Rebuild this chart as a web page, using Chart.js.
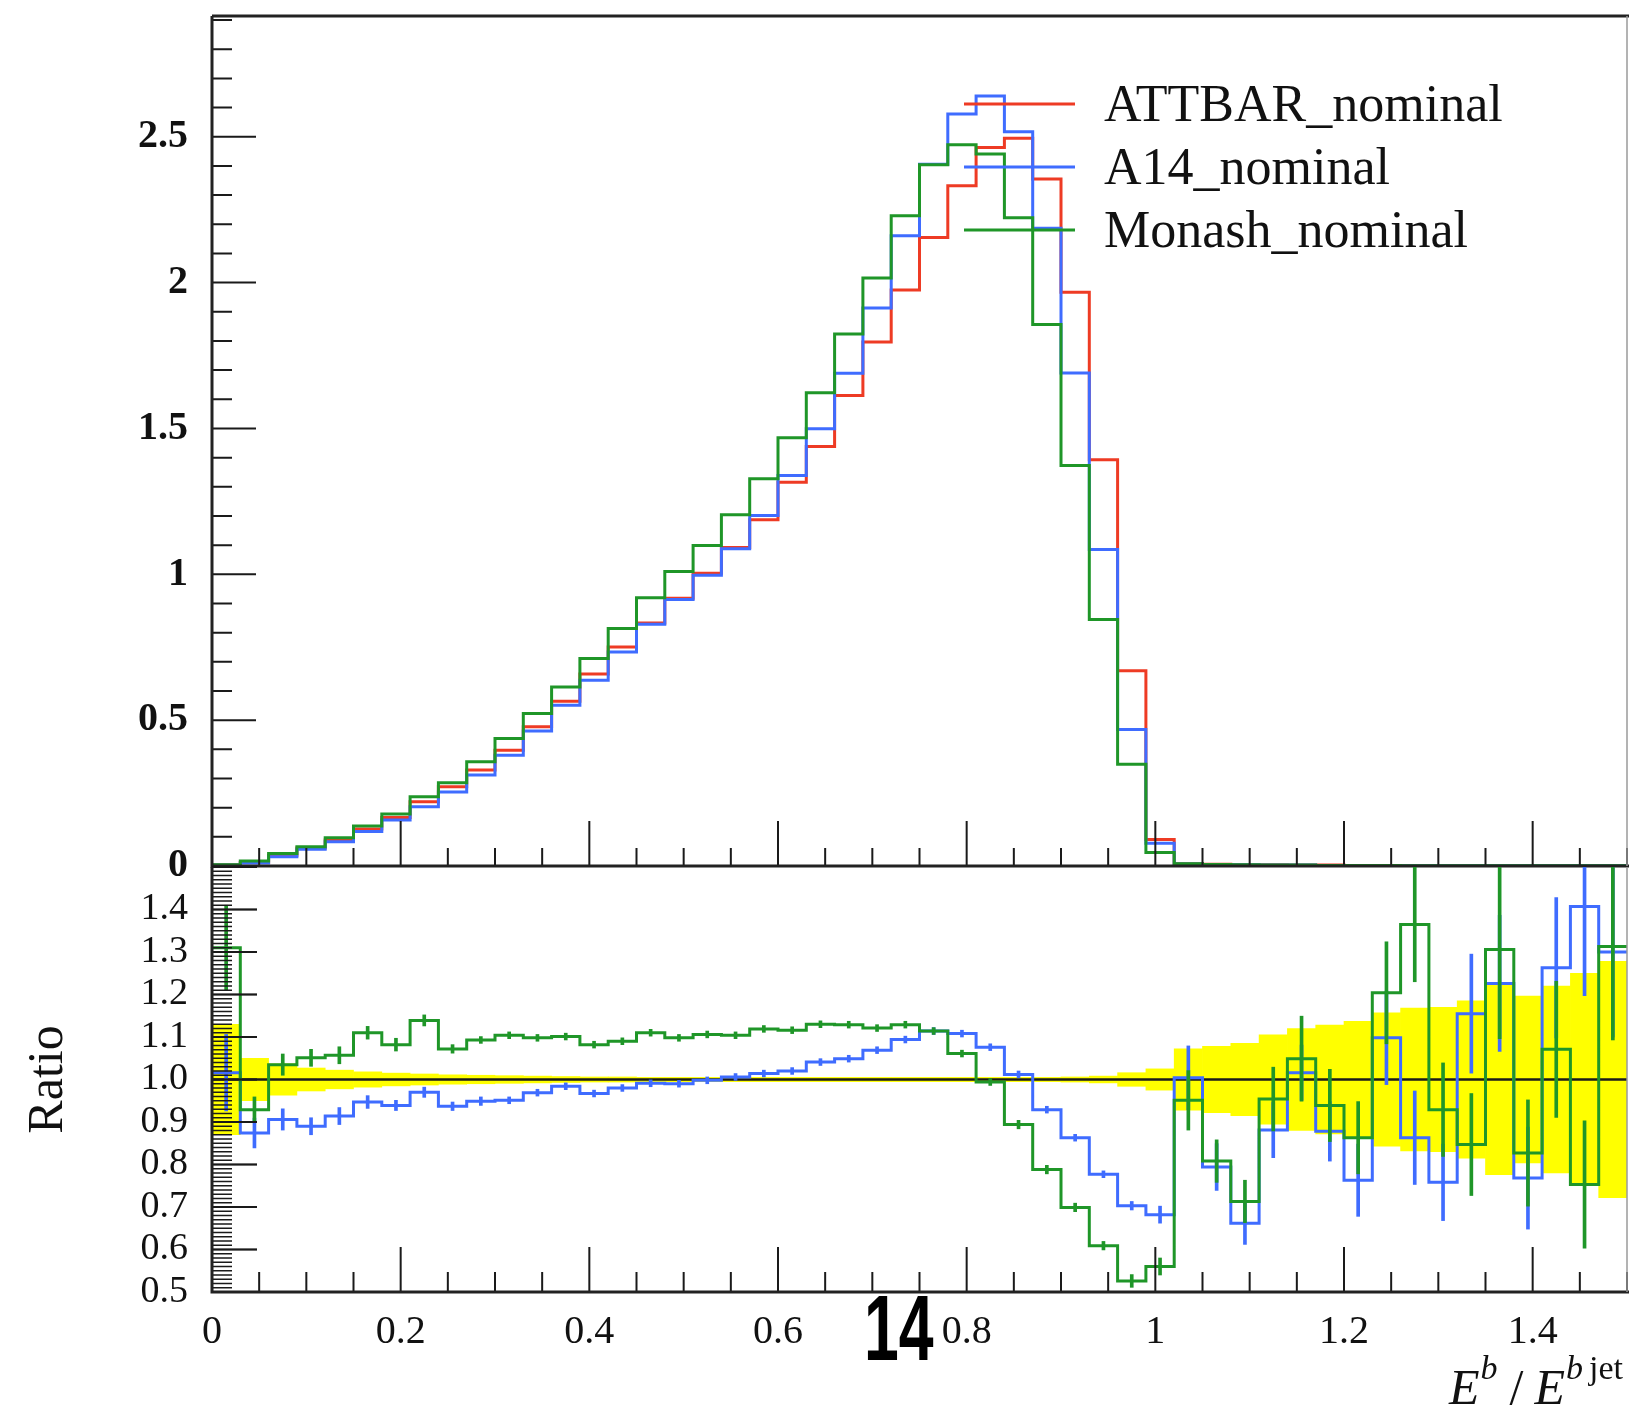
<!DOCTYPE html>
<html>
<head>
<meta charset="utf-8">
<title>E^b / E^bjet</title>
<script src="https://cdn.jsdelivr.net/npm/chart.js@4.4.1/dist/chart.umd.min.js"></script>
<style>
  html, body { margin: 0; padding: 0; background: #fff; }
  #lienzo { position: relative; width: 1629px; height: 1421px; overflow: hidden; background: #fff; }
  #lienzo canvas { position: absolute; left: 0; top: 0; }
  #pagina {
    position: absolute; left: 864px; top: 1282px;
    font: bold 92px "Liberation Sans"; line-height: 92px; color: #000;
    transform: scaleX(0.68); transform-origin: left top;
  }
</style>
</head>
<body>
<div id="lienzo">
  <canvas id="arriba" width="1629" height="1421"></canvas>
  <canvas id="abajo" width="1629" height="1421"></canvas>
  <div id="pagina">14</div>
</div>
<script>
// bordes de los 50 bins
const bordes = [0, 0.03, 0.06, 0.09, 0.12, 0.15, 0.18, 0.21, 0.24, 0.27, 0.3, 0.33, 0.36, 0.39, 0.42, 0.45,
  0.48, 0.51, 0.54, 0.57, 0.6, 0.63, 0.66, 0.69, 0.72, 0.75, 0.78, 0.81, 0.84, 0.87, 0.9, 0.93, 0.96, 0.99,
  1.02, 1.05, 1.08, 1.11, 1.14, 1.17, 1.2, 1.23, 1.26, 1.29, 1.32, 1.35, 1.38, 1.41, 1.44, 1.47, 1.5];

// distribuciones normalizadas
const attbar = [0.004, 0.012, 0.037, 0.062, 0.089, 0.127, 0.166, 0.220, 0.272, 0.329, 0.397, 0.477, 0.565,
  0.658, 0.751, 0.833, 0.918, 1.004, 1.092, 1.187, 1.316, 1.438, 1.613, 1.796, 1.975, 2.155, 2.332, 2.463,
  2.495, 2.355, 1.967, 1.393, 0.669, 0.091, 0.008, 0.006, 0.005, 0.004, 0.003, 0.003, 0.002, 0.002, 0.002,
  0.001, 0.001, 0.001, 0.001, 0.001, 0.001, 0.001];
const a14 = [0.003, 0.010, 0.032, 0.057, 0.083, 0.118, 0.158, 0.203, 0.254, 0.312, 0.380, 0.463, 0.551,
  0.637, 0.734, 0.829, 0.914, 0.997, 1.088, 1.202, 1.339, 1.499, 1.689, 1.913, 2.161, 2.406, 2.578, 2.640,
  2.517, 2.186, 1.690, 1.085, 0.468, 0.078, 0.007, 0.005, 0.004, 0.003, 0.003, 0.002, 0.002, 0.002, 0.001,
  0.001, 0.001, 0.001, 0.001, 0.001, 0.001, 0.001];
const monash = [0.004, 0.017, 0.043, 0.066, 0.097, 0.137, 0.178, 0.237, 0.285, 0.357, 0.437, 0.523, 0.614,
  0.711, 0.814, 0.920, 1.010, 1.099, 1.204, 1.328, 1.468, 1.622, 1.824, 2.016, 2.229, 2.404, 2.473, 2.441,
  2.222, 1.856, 1.373, 0.845, 0.349, 0.046, 0.008, 0.005, 0.004, 0.003, 0.003, 0.002, 0.002, 0.002, 0.001,
  0.001, 0.001, 0.001, 0.001, 0.001, 0.001, 0.001];

// cocientes respecto a ATTBAR con su error
const cocienteA14 = [1.016, 0.874, 0.906, 0.890, 0.914, 0.947, 0.939, 0.970, 0.937, 0.949, 0.951, 0.969,
  0.984, 0.967, 0.980, 0.991, 0.990, 0.998, 1.006, 1.014, 1.020, 1.041, 1.049, 1.069, 1.094, 1.114, 1.108,
  1.076, 1.012, 0.929, 0.863, 0.777, 0.703, 0.682, 1.004, 0.794, 0.662, 0.881, 1.016, 0.878, 0.763, 1.098,
  0.863, 0.758, 1.155, 1.226, 0.768, 1.263, 1.407, 1.300];
const errorA14 = [0.09, 0.035, 0.025, 0.02, 0.02, 0.015, 0.012, 0.012, 0.01, 0.01, 0.008, 0.008, 0.008,
  0.008, 0.008, 0.008, 0.008, 0.008, 0.008, 0.008, 0.008, 0.008, 0.008, 0.008, 0.008, 0.008, 0.008, 0.008,
  0.008, 0.008, 0.008, 0.008, 0.01, 0.02, 0.075, 0.055, 0.05, 0.065, 0.065, 0.07, 0.085, 0.11, 0.11, 0.09,
  0.14, 0.16, 0.12, 0.165, 0.21, 0.2];
const cocienteMonash = [1.310, 0.929, 1.035, 1.051, 1.057, 1.110, 1.082, 1.139, 1.072, 1.093, 1.104, 1.098,
  1.101, 1.082, 1.090, 1.110, 1.098, 1.106, 1.104, 1.119, 1.116, 1.130, 1.129, 1.121, 1.129, 1.114, 1.061,
  0.994, 0.894, 0.788, 0.699, 0.609, 0.526, 0.560, 0.951, 0.808, 0.713, 0.954, 1.049, 0.939, 0.863, 1.204,
  1.365, 0.929, 0.847, 1.306, 0.827, 1.071, 0.753, 1.313];
const errorMonash = [0.10, 0.03, 0.025, 0.02, 0.02, 0.015, 0.015, 0.013, 0.01, 0.008, 0.008, 0.008, 0.008,
  0.008, 0.008, 0.008, 0.008, 0.008, 0.008, 0.008, 0.008, 0.008, 0.008, 0.008, 0.008, 0.008, 0.008, 0.008,
  0.01, 0.01, 0.01, 0.01, 0.015, 0.02, 0.07, 0.05, 0.05, 0.075, 0.1, 0.085, 0.085, 0.12, 0.135, 0.11, 0.12,
  0.21, 0.125, 0.16, 0.15, 0.22];
// incertidumbre estadistica de ATTBAR (semiancho de la banda)
const bandaAttbar = [0.13, 0.05, 0.037, 0.027, 0.022, 0.018, 0.015, 0.013, 0.011, 0.010, 0.009, 0.008,
  0.007, 0.006, 0.006, 0.005, 0.005, 0.005, 0.005, 0.005, 0.005, 0.005, 0.005, 0.005, 0.005, 0.005, 0.005,
  0.005, 0.005, 0.005, 0.006, 0.008, 0.016, 0.025, 0.072, 0.078, 0.085, 0.105, 0.12, 0.128, 0.137, 0.157,
  0.168, 0.17, 0.185, 0.224, 0.196, 0.22, 0.25, 0.278];
const referencia = 1.0;

const ticksArriba = [0, 0.5, 1, 1.5, 2, 2.5];
const etiquetasArriba = ['0', '0.5', '1', '1.5', '2', '2.5'];
const ticksCociente = [0.5, 0.6, 0.7, 0.8, 0.9, 1.0, 1.1, 1.2, 1.3, 1.4];
const etiquetasCociente = ['0.5', '0.6', '0.7', '0.8', '0.9', '1.0', '1.1', '1.2', '1.3', '1.4'];
const ticksX = [0, 0.2, 0.4, 0.6, 0.8, 1.0, 1.2, 1.4];
const etiquetasX = ['0', '0.2', '0.4', '0.6', '0.8', '1', '1.2', '1.4'];

const rojo = '#ee3b24';
const azul = '#3f6cff';
const verde = '#1f9628';
const fuente = 'Liberation Serif';

function escalones(valores) {
    const puntos = valores.map((v, i) => ({ x: bordes[i], y: v }));
    puntos.push({ x: bordes[valores.length], y: valores[valores.length - 1] });
    return puntos;
}

function barrasError(valores, errores) {
    return valores.map((v, i) => ({ x: (bordes[i] + bordes[i + 1]) / 2, y: [v - errores[i], v + errores[i]] }));
}

function linea(etiqueta, datos, color, orden) {
    return {
        type: 'line', label: etiqueta, data: datos, borderColor: color, borderWidth: 3,
        stepped: true, pointRadius: 0, fill: false, tension: 0, order: orden
    };
}

// ancho fijo del eje y, sin reservar margen para las etiquetas de los extremos
function ejeFijo(s) {
    s.width = 212;
    s.paddingTop = 0;
    s.paddingBottom = 0;
}

// marco y marcas de los ejes, dibujadas hacia dentro
const marcas = {
    id: 'marcas',
    afterDatasetsDraw(chart, args, o) {
        const { ctx, chartArea: a, scales: { x, y } } = chart;
        ctx.save();
        ctx.strokeStyle = '#1a1a1a';

        ctx.lineWidth = 2;
        ctx.beginPath();
        const nx = Math.round((x.max - x.min) / o.x.paso);
        for (let k = 0; k <= nx; k++) {
            const px = x.getPixelForValue(x.min + k * o.x.paso);
            const largo = k % o.x.cada === 0 ? o.x.mayor : o.x.menor;
            ctx.moveTo(px, a.bottom);
            ctx.lineTo(px, a.bottom - largo);
        }
        ctx.stroke();

        const ny = Math.floor((y.max - o.y.desde) / o.y.paso + 1e-6);
        ctx.lineWidth = o.y.grosor;
        ctx.beginPath();
        for (let k = 0; k <= ny; k++) {
            const py = y.getPixelForValue(o.y.desde + k * o.y.paso);
            const largo = k % o.y.cada === 0 ? o.y.mayor : o.y.menor;
            ctx.moveTo(a.left, py);
            ctx.lineTo(a.left + largo, py);
        }
        ctx.stroke();
        if (o.y.grosor < 2) {
            ctx.lineWidth = 2;
            ctx.beginPath();
            for (let k = 0; k <= ny; k += o.y.cada) {
                const py = y.getPixelForValue(o.y.desde + k * o.y.paso);
                ctx.moveTo(a.left, py);
                ctx.lineTo(a.left + o.y.mayor, py);
            }
            ctx.stroke();
        }

        // marco
        ctx.strokeStyle = '#222';
        ctx.lineWidth = 3;
        ctx.beginPath();
        ctx.moveTo(a.left, a.top);
        ctx.lineTo(a.left, a.bottom);
        ctx.lineTo(a.right + 2, a.bottom);
        if (o.arriba) {
            ctx.moveTo(a.left, a.top);
            ctx.lineTo(a.right + 2, a.top);
        }
        ctx.stroke();
        ctx.strokeStyle = '#9a9a9a';
        ctx.lineWidth = 1.5;
        ctx.beginPath();
        ctx.moveTo(a.right, a.top);
        ctx.lineTo(a.right, a.bottom);
        ctx.stroke();
        ctx.restore();
    }
};

const leyenda = {
    id: 'leyenda',
    afterDraw(chart, args, o) {
        const ctx = chart.ctx;
        ctx.save();
        ctx.font = o.letra;
        ctx.textBaseline = 'alphabetic';
        o.filas.forEach((indice, fila) => {
            const ds = chart.data.datasets[indice];
            const y = o.y + fila * o.salto;
            ctx.strokeStyle = ds.borderColor;
            ctx.lineWidth = 3;
            ctx.beginPath();
            ctx.moveTo(o.x0, y);
            ctx.lineTo(o.x1, y);
            ctx.stroke();
            ctx.fillStyle = '#111';
            ctx.fillText(ds.label, o.xTexto, y + o.bajada);
        });
        ctx.restore();
    }
};

// titulo del eje x con superindices
const tituloX = {
    id: 'tituloX',
    afterDraw(chart, args, o) {
        const ctx = chart.ctx;
        const partes = [
            { t: 'E', f: `italic 50px "${fuente}"`, sube: 0, hueco: 1 },
            { t: 'b', f: `italic 34px "${fuente}"`, sube: 25, hueco: 12 },
            { t: '/', f: `50px "${fuente}"`, sube: 0, hueco: 11 },
            { t: 'E', f: `italic 50px "${fuente}"`, sube: 0, hueco: 1 },
            { t: 'b', f: `italic 34px "${fuente}"`, sube: 25, hueco: 6 },
            { t: 'jet', f: `34px "${fuente}"`, sube: 25, hueco: 0 }
        ];
        ctx.save();
        ctx.fillStyle = '#111';
        ctx.textBaseline = 'alphabetic';
        let x = o.x;
        partes.forEach(p => {
            ctx.font = p.f;
            ctx.fillText(p.t, x, o.y - p.sube);
            x += ctx.measureText(p.t).width + p.hueco;
        });
        ctx.restore();
    }
};

// panel superior: distribuciones
new Chart(document.getElementById('arriba'), {
    type: 'line',
    data: {
        datasets: [
            linea('ATTBAR_nominal', escalones(attbar), rojo, 2),
            linea('A14_nominal', escalones(a14), azul, 1),
            linea('Monash_nominal', escalones(monash), verde, 0)
        ]
    },
    options: {
        responsive: false,
        animation: false,
        events: [],
        layout: { padding: { top: 16, right: 2, bottom: 555, left: 0 } },
        plugins: {
            legend: { display: false },
            tooltip: { enabled: false },
            marcas: {
                arriba: true,
                x: { paso: 0.05, cada: 4, mayor: 45, menor: 18 },
                y: { desde: 0, paso: 0.1, cada: 5, mayor: 44, menor: 20, grosor: 2 }
            },
            leyenda: {
                filas: [0, 1, 2], x0: 964, x1: 1075, xTexto: 1104, y: 104, salto: 63, bajada: 17,
                letra: `52px "${fuente}"`
            }
        },
        scales: {
            x: { type: 'linear', min: 0, max: 1.5, display: false },
            y: {
                min: 0, max: 2.914,
                afterFit: ejeFijo,
                afterBuildTicks(s) { s.ticks = ticksArriba.map(v => ({ value: v })); },
                grid: { display: false, drawTicks: false },
                border: { display: false },
                ticks: {
                    autoSkip: false, padding: 24, color: '#111',
                    font: { family: fuente, size: 40, weight: 'bold' },
                    callback: (v, i) => etiquetasArriba[i]
                }
            }
        }
    },
    plugins: [marcas, leyenda]
});

// panel inferior: cocientes
new Chart(document.getElementById('abajo'), {
    type: 'bar',
    data: {
        datasets: [
            linea('Monash_nominal', escalones(cocienteMonash), verde, 0),
            { type: 'bar', data: barrasError(cocienteMonash, errorMonash), backgroundColor: verde,
              barThickness: 3, grouped: false, borderWidth: 0, order: 1 },
            linea('A14_nominal', escalones(cocienteA14), azul, 2),
            { type: 'bar', data: barrasError(cocienteA14, errorA14), backgroundColor: azul,
              barThickness: 3, grouped: false, borderWidth: 0, order: 3 },
            { type: 'line', data: [{ x: 0, y: referencia }, { x: 1.5, y: referencia }], borderColor: '#1a1a1a',
              borderWidth: 2.5, pointRadius: 0, order: 4 },
            { type: 'bar', data: barrasError(bandaAttbar.map(() => referencia), bandaAttbar),
              backgroundColor: '#ffff00', barPercentage: 1, categoryPercentage: 1, grouped: false,
              borderWidth: 0, order: 5 }
        ]
    },
    options: {
        responsive: false,
        animation: false,
        events: [],
        layout: { padding: { top: 867, right: 2, bottom: 0, left: 0 } },
        plugins: {
            legend: { display: false },
            tooltip: { enabled: false },
            marcas: {
                arriba: false,
                x: { paso: 0.05, cada: 4, mayor: 45, menor: 20 },
                y: { desde: 0.5, paso: 0.01, cada: 10, mayor: 45, menor: 20, grosor: 1.4 }
            },
            tituloX: { x: 1449, y: 1404 }
        },
        scales: {
            x: {
                type: 'linear', min: 0, max: 1.5, offset: false,
                afterFit(s) { s.height = 129; },
                afterBuildTicks(s) { s.ticks = ticksX.map(v => ({ value: v })); },
                grid: { display: false, drawTicks: false, offset: false },
                border: { display: false },
                ticks: {
                    autoSkip: false, maxRotation: 0, padding: 16, color: '#111',
                    font: { family: fuente, size: 40 },
                    callback: (v, i) => etiquetasX[i]
                }
            },
            y: {
                min: 0.5, max: 1.5,
                afterFit: ejeFijo,
                afterBuildTicks(s) { s.ticks = ticksCociente.map(v => ({ value: v })); },
                grid: { display: false, drawTicks: false },
                border: { display: false },
                title: {
                    display: true, text: 'Ratio', color: '#111',
                    font: { family: fuente, size: 50 }, padding: { top: 19, bottom: 0 }
                },
                ticks: {
                    autoSkip: false, padding: 24, color: '#111',
                    font: { family: fuente, size: 38 },
                    callback: (v, i) => etiquetasCociente[i]
                }
            }
        }
    },
    plugins: [marcas, tituloX]
});
</script>
</body>
</html>
